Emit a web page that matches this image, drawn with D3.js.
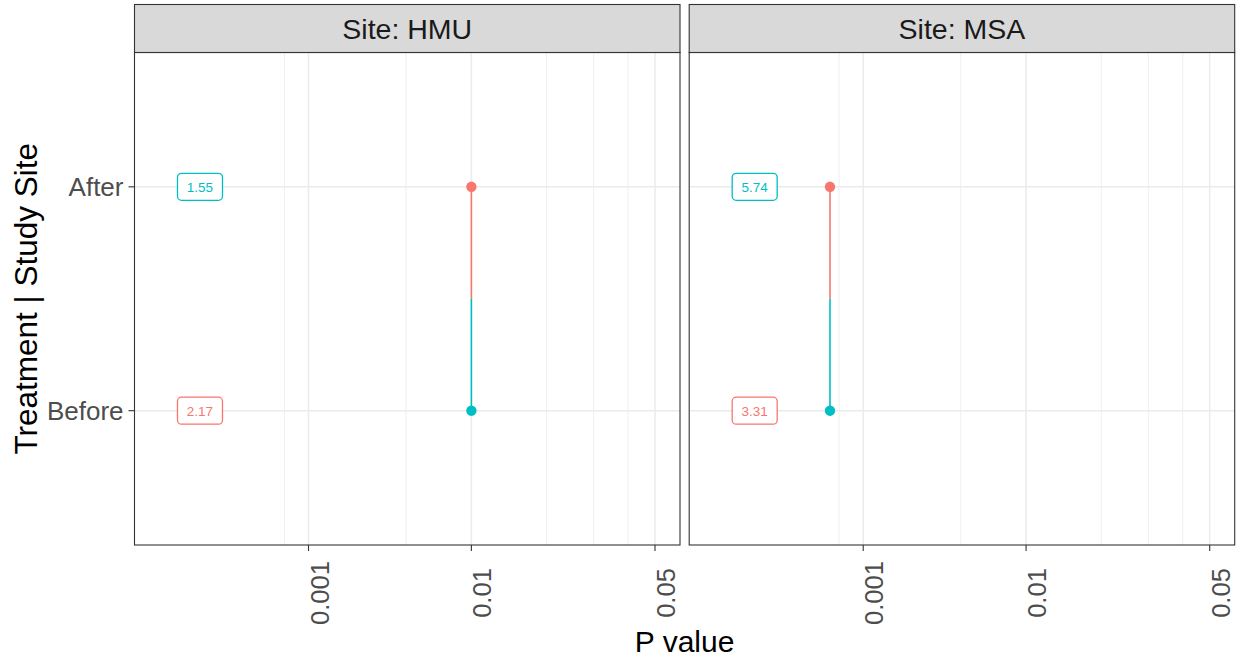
<!DOCTYPE html>
<html>
<head>
<meta charset="utf-8">
<script src="https://cdn.jsdelivr.net/npm/d3@7"></script>
<style>
  body { margin: 0; background: #ffffff; }
  svg { display: block; }
  text { font-family: "Liberation Sans", Arial, "DejaVu Sans", sans-serif; }
</style>
</head>
<body>
<svg id="chart" width="1236" height="662"></svg>
<script>
// ---- data ---------------------------------------------------------------
const sites = ["HMU", "MSA"];
const treatments = ["After", "Before"];
const pAfter = [0.01, 0.0002];          // P value, After
const pBefore = [0.01, 0.0002];         // P value, Before
const statAfter = ["1.55", "5.74"];     // labelled statistic, After
const statBefore = ["2.17", "3.31"];    // labelled statistic, Before
const labelP = -0.00167;                // x position of the value labels
const xTicks = [0.001, 0.01, 0.05];
const xTickLabels = ["0.001", "0.01", "0.05"];
const xMinorBreaks = [0.0004, 0.005, 0.02, 0.03, 0.04];

// ---- layout -------------------------------------------------------------
const panelLeft = 134.5, panelW = 545.5, panelGap = 9.2;
const stripTop = 4.5, stripH = 48, panelTop = 52.5, panelBottom = 545;
const red = "#F8766D", cyan = "#00BFC4";
const grid = "#EBEBEB", border = "#333333", tickText = "#4D4D4D";

const svg = d3.select("#chart");

// pseudo-log x scale shared by both facets
const x = d3.scaleSymlog().constant(0.0025)
  .domain([0.001, 0.05]).range([174, 520.5]);

const y = d3.scalePoint().domain(treatments)
  .range([0, panelBottom - panelTop]).padding(0.6);

svg.append("defs").append("clipPath").attr("id", "panelClip")
  .append("rect").attr("width", panelW).attr("height", panelBottom - panelTop);

sites.forEach((site, i) => {
  const px = panelLeft + i * (panelW + panelGap);
  const g = svg.append("g").attr("transform", `translate(${px},${panelTop})`);
  const ph = panelBottom - panelTop;

  // gridlines
  const gg = g.append("g").attr("clip-path", "url(#panelClip)");
  gg.selectAll("line.minor").data(xMinorBreaks).join("line")
    .attr("class", "minor")
    .attr("x1", d => x(d)).attr("x2", d => x(d))
    .attr("y1", 0).attr("y2", ph)
    .attr("stroke", grid).attr("stroke-width", 0.8);
  gg.selectAll("line.majx").data(xTicks).join("line")
    .attr("class", "majx")
    .attr("x1", d => x(d)).attr("x2", d => x(d))
    .attr("y1", 0).attr("y2", ph)
    .attr("stroke", grid).attr("stroke-width", 1.5);
  gg.selectAll("line.majy").data(treatments).join("line")
    .attr("class", "majy")
    .attr("x1", 0).attr("x2", panelW)
    .attr("y1", d => y(d)).attr("y2", d => y(d))
    .attr("stroke", grid).attr("stroke-width", 1.5);

  // dumbbell: each half of the segment takes its end's colour
  const yA = y("After"), yB = y("Before"), yMid = (yA + yB) / 2;
  const xA = x(pAfter[i]), xB = x(pBefore[i]);
  g.append("line")
    .attr("x1", xA).attr("x2", (xA + xB) / 2)
    .attr("y1", yA).attr("y2", yMid)
    .attr("stroke", red).attr("stroke-width", 1.6);
  g.append("line")
    .attr("x1", (xA + xB) / 2).attr("x2", xB)
    .attr("y1", yMid).attr("y2", yB)
    .attr("stroke", cyan).attr("stroke-width", 1.6);
  g.append("circle").attr("cx", xA).attr("cy", yA).attr("r", 5.2).attr("fill", red);
  g.append("circle").attr("cx", xB).attr("cy", yB).attr("r", 5.2).attr("fill", cyan);

  // value labels
  const labels = [
    { t: "After", v: statAfter[i], c: cyan },
    { t: "Before", v: statBefore[i], c: red }
  ];
  labels.forEach(l => {
    const cx = x(labelP), cy = y(l.t);
    g.append("rect")
      .attr("x", cx - 22.5).attr("y", cy - 13.5).attr("width", 45).attr("height", 27)
      .attr("rx", 4).attr("ry", 4)
      .attr("fill", "#ffffff").attr("stroke", l.c).attr("stroke-width", 1.3);
    g.append("text")
      .attr("x", cx).attr("y", cy).attr("dy", "0.36em")
      .attr("text-anchor", "middle")
      .attr("font-size", 13.5).attr("fill", l.c)
      .text(l.v);
  });

  // panel border
  g.append("rect").attr("width", panelW).attr("height", ph)
    .attr("fill", "none").attr("stroke", border).attr("stroke-width", 1.1);

  // strip
  svg.append("rect")
    .attr("x", px).attr("y", stripTop).attr("width", panelW).attr("height", stripH)
    .attr("fill", "#D9D9D9").attr("stroke", border).attr("stroke-width", 1.1);
  svg.append("text")
    .attr("x", px + panelW / 2).attr("y", stripTop + stripH / 2).attr("dy", "0.36em")
    .attr("text-anchor", "middle").attr("font-size", 28.5).attr("fill", "#1A1A1A")
    .text("Site: " + site);

  // x axis
  const xa = svg.append("g").attr("transform", `translate(${px},${panelBottom})`);
  xa.selectAll("line").data(xTicks).join("line")
    .attr("x1", d => x(d)).attr("x2", d => x(d))
    .attr("y1", 0).attr("y2", 6)
    .attr("stroke", border).attr("stroke-width", 1.1);
  xa.selectAll("text").data(xTicks).join("text")
    .attr("transform", d => `translate(${x(d) + 20},48) rotate(-90)`)
    .attr("text-anchor", "middle")
    .attr("font-size", 25.5).attr("fill", tickText)
    .text((d, k) => xTickLabels[k]);
});

// y axis on the left facet
const ya = svg.append("g").attr("transform", `translate(${panelLeft},${panelTop})`);
ya.selectAll("line").data(treatments).join("line")
  .attr("x1", -6).attr("x2", 0)
  .attr("y1", d => y(d)).attr("y2", d => y(d))
  .attr("stroke", border).attr("stroke-width", 1.1);
ya.selectAll("text").data(treatments).join("text")
  .attr("x", -11).attr("y", d => y(d)).attr("dy", "0.36em")
  .attr("text-anchor", "end").attr("font-size", 26).attr("fill", tickText)
  .text(d => d);

// axis titles
svg.append("text")
  .attr("x", panelLeft + (2 * panelW + panelGap) / 2).attr("y", 651.5)
  .attr("text-anchor", "middle").attr("font-size", 30).attr("fill", "#000")
  .text("P value");
svg.append("text")
  .attr("transform", `translate(37,${(panelTop + panelBottom) / 2}) rotate(-90)`)
  .attr("text-anchor", "middle").attr("font-size", 31.5).attr("fill", "#000")
  .text("Treatment | Study Site");
</script>
</body>
</html>
